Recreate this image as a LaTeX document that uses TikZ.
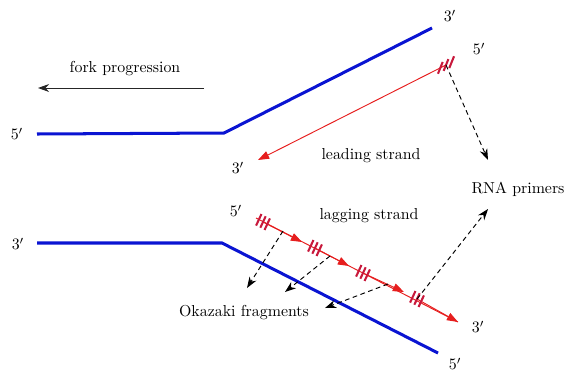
\documentclass[tikz,border=0pt]{standalone}
\usetikzlibrary{arrows.meta}
\definecolor{strandblue}{RGB}{10,20,210}
\definecolor{newred}{RGB}{230,30,30}
\definecolor{primercol}{RGB}{200,25,60}
\tikzset{
  template/.style={draw=strandblue, line width=1.9pt, line join=miter},
  newstrand/.style={draw=newred, line width=0.6pt},
  redtip/.style={newstrand, -{Triangle[length=7pt,width=5pt]}},
  pointer/.style={draw=black, line width=0.6pt, dash pattern=on 3pt off 2.2pt, -{Stealth[length=7pt,width=5pt]}},
  progress/.style={draw=black!85, line width=0.6pt, -{Stealth[length=7pt,width=5pt]}},
  lbl/.style={inner sep=0pt, font=\fontsize{10}{12}\selectfont},
  primerlead/.pic={
    \foreach \d in {-4,0,4}
      \draw[primercol, line width=1.3pt] (26.8:\d pt) ++(248:4pt) -- ++(68:8pt);
  },
  primerlag/.pic={
    \foreach \d in {-3,0,3}
      \draw[primercol, line width=1.3pt] (-27.3:\d pt) ++(245:4pt) -- ++(65:8pt);
  }
}
\begin{document}
\begin{tikzpicture}[x=0.63pt,y=-0.63pt]
\useasboundingbox (0,0) rectangle (565,371);
% template strands
\coordinate (ua) at (37,134);
\coordinate (ub) at (224,133);
\coordinate (uc) at (432,28);
\coordinate (la) at (37,243);
\coordinate (lb) at (222,243);
\coordinate (lc) at (438,353);
\draw[template] (ua) -- (ub) -- (uc);
\draw[template] (la) -- (lb) -- (lc);
% labels
\node[lbl] (u5) at (17,134) {$5'$};
\node[lbl] (u3) at (450,16) {$3'$};
\node[lbl] (l3) at (18,244) {$3'$};
\node[lbl] (l5) at (455,364) {$5'$};
% fork progression
\coordinate (fpA) at (204,88);
\coordinate (fpB) at (38,88);
\draw[progress] (fpA) -- (fpB);
\node[lbl] (fp) at (125,69) {fork progression};
% leading strand
\coordinate (ld5) at (446,65);
\coordinate (ld3) at (258,160);
\draw[redtip] (ld5) -- (ld3);
\node[lbl] (ld5l) at (479,49) {$5'$};
\node[lbl] (ld3l) at (238,168) {$3'$};
\node[lbl] (leading) at (371,156) {leading strand};
% lagging strand
\coordinate (lg5) at (256,218);
\coordinate (lg3) at (458,322);
\coordinate (h1) at (263,222);
\coordinate (h2) at (315,248);
\coordinate (h3) at (363,273);
\coordinate (h4) at (417,299);
\coordinate (t1) at (302,242);
\coordinate (t2) at (349,266);
\coordinate (t3) at (404,292);
\draw[newstrand] (lg5) -- (lg3);
\draw[redtip] (h1) -- (t1);
\draw[redtip] (h2) -- (t2);
\draw[redtip] (h3) -- (t3);
\draw[redtip] (h4) -- (lg3);
\node[lbl] (lg5l) at (236,211) {$5'$};
\node[lbl] (lg3l) at (478,327) {$3'$};
\node[lbl] (lagging) at (369,216) {lagging strand};
% primers (hatches)
\pic at (ld5) {primerlead};
\pic at (h1) {primerlag};
\pic at (h2) {primerlag};
\pic at (h3) {primerlag};
\pic at (h4) {primerlag};
% RNA primers
\node[lbl] (rna) at (518,189) {RNA primers};
\draw[pointer] (ld5) -- (488,160);
\draw[pointer] (h4) -- (488,209);
% Okazaki fragments
\node[lbl] (oka) at (244,313) {Okazaki fragments};
\coordinate (o1) at (283,231);
\coordinate (o2) at (330,256);
\coordinate (o3) at (388,284);
\draw[pointer] (o1) -- (247,288);
\draw[pointer] (o2) -- (285,292);
\draw[pointer] (o3) -- (325,308);
\end{tikzpicture}
\end{document}
